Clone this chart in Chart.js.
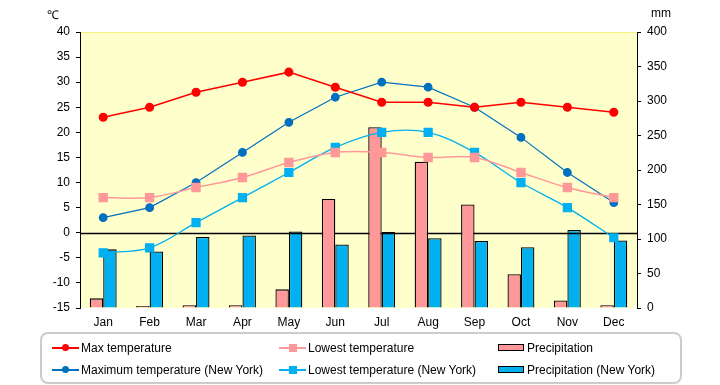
<!DOCTYPE html>
<html>
<head>
<meta charset="utf-8">
<script src="https://cdn.jsdelivr.net/npm/chart.js@4/dist/chart.umd.min.js"></script>
<style>
  body { margin:0; background:#fff; font-family:"Liberation Sans", Arial, sans-serif; }
  #wrap { position:relative; width:720px; height:385px; }
  #c { position:absolute; left:0; top:0; }
  .unit { position:absolute; top:6px; font-size:12px; color:#000; }
  #legend { position:absolute; left:40px; top:332px; width:642px; height:52px; border:2px solid #ccc; border-radius:8px; box-sizing:border-box; }
  .item { position:absolute; font-size:12px; color:#000; white-space:nowrap; height:14px; line-height:14px; }
  .item .sw { position:absolute; left:0; top:0; width:27px; height:14px; }
  .item span.t { position:absolute; left:29px; top:0; }
</style>
</head>
<body>
<div id="wrap">
  <canvas id="c" width="720" height="385"></canvas>
  <div class="unit" style="left:47px">℃</div>
  <div class="unit" style="left:651px">mm</div>
  <div id="legend"></div>
</div>
<script>
const months = ['Jan','Feb','Mar','Apr','May','Jun','Jul','Aug','Sep','Oct','Nov','Dec'];
const maxTemp = [23, 25, 28, 30, 32, 29, 26, 26, 25, 26, 25, 24];
const lowTemp = [7, 7, 9, 11, 14, 16, 16, 15, 15, 12, 9, 7];
const precip = [14, 3, 4, 4, 27, 158, 262, 212, 150, 49, 11, 4];
const maxTempNY = [3, 5, 10, 16, 22, 27, 30, 29, 25, 19, 12, 6];
const lowTempNY = [-4, -3, 2, 7, 12, 17, 20, 20, 16, 10, 5, -1];
const precipNY = [85, 82, 103, 105, 111, 92, 110, 101, 97, 88, 113, 98];

const red = '#ff0000', pink = '#ff9999', blue = '#0070c0', cyan = '#00b0f0';

const plotBg = {
    id: 'plotBg',
    beforeDraw(chart) {
        const a = chart.chartArea, ctx = chart.ctx;
        ctx.save();
        ctx.fillStyle = '#ffffcc';
        ctx.fillRect(a.left, a.top, a.right - a.left, a.bottom - a.top);
        ctx.strokeStyle = '#f4f080';
        ctx.lineWidth = 1;
        ctx.beginPath();
        ctx.moveTo(a.left, a.top + 0.5);
        ctx.lineTo(a.right, a.top + 0.5);
        ctx.stroke();
        ctx.restore();
    }
};

const zeroLine = {
    id: 'zeroLine',
    afterDatasetDraw(chart, args) {
        // draw the 0 line after the bars, under the lines
        if (args.index !== chart.data.datasets.length - 1) return;
        const a = chart.chartArea, ctx = chart.ctx;
        const y = Math.round(chart.scales.y.getPixelForValue(0)) + 0.5;
        ctx.save();
        ctx.strokeStyle = '#000';
        ctx.lineWidth = 1.3;
        ctx.beginPath();
        ctx.moveTo(a.left, y);
        ctx.lineTo(a.right, y);
        ctx.stroke();
        ctx.restore();
    }
};

const tickFont = { family: '"Liberation Sans", Arial, sans-serif', size: 12 };

new Chart(document.getElementById('c'), {
    data: {
        labels: months,
        datasets: [
            { type:'line', label:'Max temperature', data:maxTemp, yAxisID:'y', borderColor:red, backgroundColor:red, borderWidth:1.5, pointRadius:3.8, pointStyle:'circle', tension:0, order:1 },
            { type:'line', label:'Lowest temperature', data:lowTemp, yAxisID:'y', borderColor:pink, backgroundColor:pink, borderWidth:1.5, pointRadius:5.6, pointStyle:'rect', tension:0.35, order:1 },
            { type:'line', label:'Maximum temperature (New York)', data:maxTempNY, yAxisID:'y', borderColor:blue, backgroundColor:blue, borderWidth:1.2, pointRadius:3.8, pointStyle:'circle', tension:0, order:1 },
            { type:'line', label:'Lowest temperature (New York)', data:lowTempNY, yAxisID:'y', borderColor:cyan, backgroundColor:cyan, borderWidth:1.3, pointRadius:5.6, pointStyle:'rect', tension:0.35, order:1 },
            { type:'bar', label:'Precipitation', data:precip, yAxisID:'y2', backgroundColor:pink, borderColor:'#000', borderWidth:1.3, order:2, categoryPercentage:0.58, barPercentage:1 },
            { type:'bar', label:'Precipitation (New York)', data:precipNY, yAxisID:'y2', backgroundColor:cyan, borderColor:'#000', borderWidth:1.3, order:3, categoryPercentage:0.58, barPercentage:1 }
        ]
    },
    options: {
        responsive:false,
        animation:false,
        layout:{ padding:{ top:32, left:0, right:0, bottom:0 } },
        plugins:{ legend:{display:false}, tooltip:{enabled:false} },
        scales:{
            x:{
                grid:{ display:false },
                border:{ display:false },
                ticks:{ color:'#000', font:tickFont, padding:-1 },
                afterFit(s){ s.height = 77; }
            },
            y:{
                position:'left', min:-15, max:40,
                ticks:{ stepSize:5, color:'#000', font:tickFont, padding:6 },
                grid:{ drawOnChartArea:false, tickLength:4, tickColor:'#000' },
                border:{ display:true, color:'#000', width:1 },
                afterFit(s){ s.width = 80; }
            },
            y2:{
                position:'right', min:0, max:400,
                ticks:{ stepSize:50, color:'#000', font:tickFont, padding:6 },
                grid:{ drawOnChartArea:false, tickLength:4, tickColor:'#000' },
                border:{ display:true, color:'#000', width:1 },
                afterFit(s){ s.width = 83; }
            }
        }
    },
    plugins:[plotBg, zeroLine]
});

// legend in three columns, two rows
const legendItems = [
    { text:'Max temperature', kind:'circle', color:red, x:12, y:9 },
    { text:'Maximum temperature (New York)', kind:'circle', color:blue, x:12, y:31 },
    { text:'Lowest temperature', kind:'rect', color:pink, x:239, y:9 },
    { text:'Lowest temperature (New York)', kind:'rect', color:cyan, x:239, y:31 },
    { text:'Precipitation', kind:'bar', color:pink, x:458, y:9 },
    { text:'Precipitation (New York)', kind:'bar', color:cyan, x:458, y:31 }
];
const legendEl = document.getElementById('legend');
legendItems.forEach(it => {
    const d = document.createElement('div');
    d.className = 'item';
    d.style.left = (it.x - 2) + 'px';
    d.style.top = (it.y - 2) + 'px';
    let sw;
    if (it.kind === 'bar') {
        sw = `<div class="sw"><div style="position:absolute;left:0;top:3px;width:24px;height:5px;background:${it.color};border:1.5px solid #000"></div></div>`;
    } else {
        const mk = it.kind === 'circle'
            ? `<div style="position:absolute;left:10px;top:3px;width:7px;height:7px;border-radius:50%;background:${it.color}"></div>`
            : `<div style="position:absolute;left:10px;top:3px;width:8px;height:8px;background:${it.color}"></div>`;
        sw = `<div class="sw"><div style="position:absolute;left:0;top:6px;width:27px;height:1.5px;background:${it.color}"></div>${mk}</div>`;
    }
    d.innerHTML = sw + `<span class="t">${it.text}</span>`;
    legendEl.appendChild(d);
});
</script>
</body>
</html>
